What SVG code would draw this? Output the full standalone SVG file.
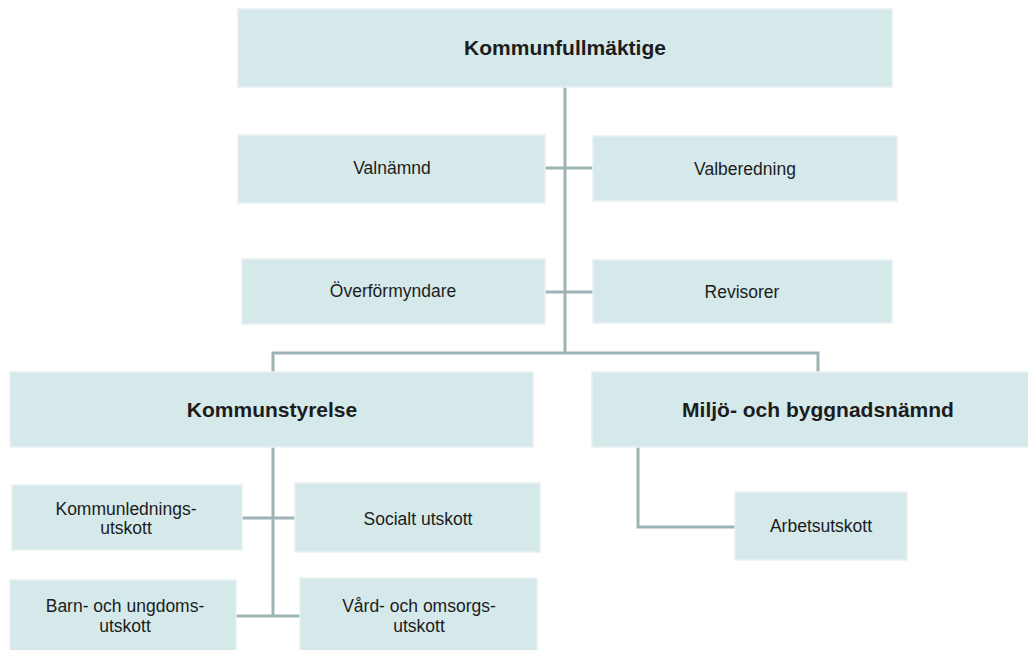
<svg xmlns="http://www.w3.org/2000/svg" width="1028" height="650" viewBox="0 0 1028 650">
<style>
.box{fill:#d5e9eb;stroke:#e9eff0;stroke-width:1.5}
.t{font-family:"Liberation Sans",Arial,sans-serif;fill:#1c1c1c;text-anchor:middle}
.b{font-weight:bold;font-size:21px}
.r{font-size:17.5px}
.c{fill:none;stroke:#9db3b6;stroke-width:3}
</style>
<rect width="1028" height="650" fill="#ffffff"/>
<g id="connectors">
<path class="c" d="M565 87V353"/>
<path class="c" d="M545 168H593"/>
<path class="c" d="M545 292H593"/>
<path class="c" d="M273 372V353H818V372"/>
<path class="c" d="M273 447V616"/>
<path class="c" d="M242 518H295"/>
<path class="c" d="M236 616H300"/>
<path class="c" d="M638 447V527H735"/>
</g>
<g id="kommunfullmaktige">
<rect class="box" x="238" y="9" width="654" height="78"/>
<text class="t b" x="565" y="55">Kommunfullmäktige</text>
</g>
<g id="valnamnd">
<rect class="box" x="238" y="135" width="307" height="68"/>
<text class="t r" x="392" y="174">Valnämnd</text>
</g>
<g id="valberedning">
<rect class="box" x="593" y="136" width="304" height="65"/>
<text class="t r" x="745" y="175">Valberedning</text>
</g>
<g id="overformyndare">
<rect class="box" x="242" y="259" width="303" height="65"/>
<text class="t r" x="393" y="297">Överförmyndare</text>
</g>
<g id="revisorer">
<rect class="box" x="593" y="260" width="299" height="63"/>
<text class="t r" x="742" y="298">Revisorer</text>
</g>
<g id="kommunstyrelse">
<rect class="box" x="10" y="372" width="523" height="75"/>
<text class="t b" x="272" y="417">Kommunstyrelse</text>
</g>
<g id="miljo">
<rect class="box" x="592" y="372" width="450" height="75"/>
<text class="t b" x="818" y="417">Miljö- och byggnadsnämnd</text>
</g>
<g id="kommunledningsutskott">
<rect class="box" x="12" y="485" width="230" height="65"/>
<text class="t r" x="126" y="515">Kommunlednings-</text>
<text class="t r" x="126" y="534">utskott</text>
</g>
<g id="socialt">
<rect class="box" x="295" y="483" width="245" height="69"/>
<text class="t r" x="418" y="525">Socialt utskott</text>
</g>
<g id="barn">
<rect class="box" x="10" y="580" width="226" height="80"/>
<text class="t r" x="125" y="612">Barn- och ungdoms-</text>
<text class="t r" x="125" y="632">utskott</text>
</g>
<g id="vard">
<rect class="box" x="300" y="578" width="237" height="82"/>
<text class="t r" x="419" y="612">Vård- och omsorgs-</text>
<text class="t r" x="419" y="632">utskott</text>
</g>
<g id="arbetsutskott">
<rect class="box" x="735" y="492" width="172" height="68"/>
<text class="t r" x="821" y="532">Arbetsutskott</text>
</g>
</svg>
